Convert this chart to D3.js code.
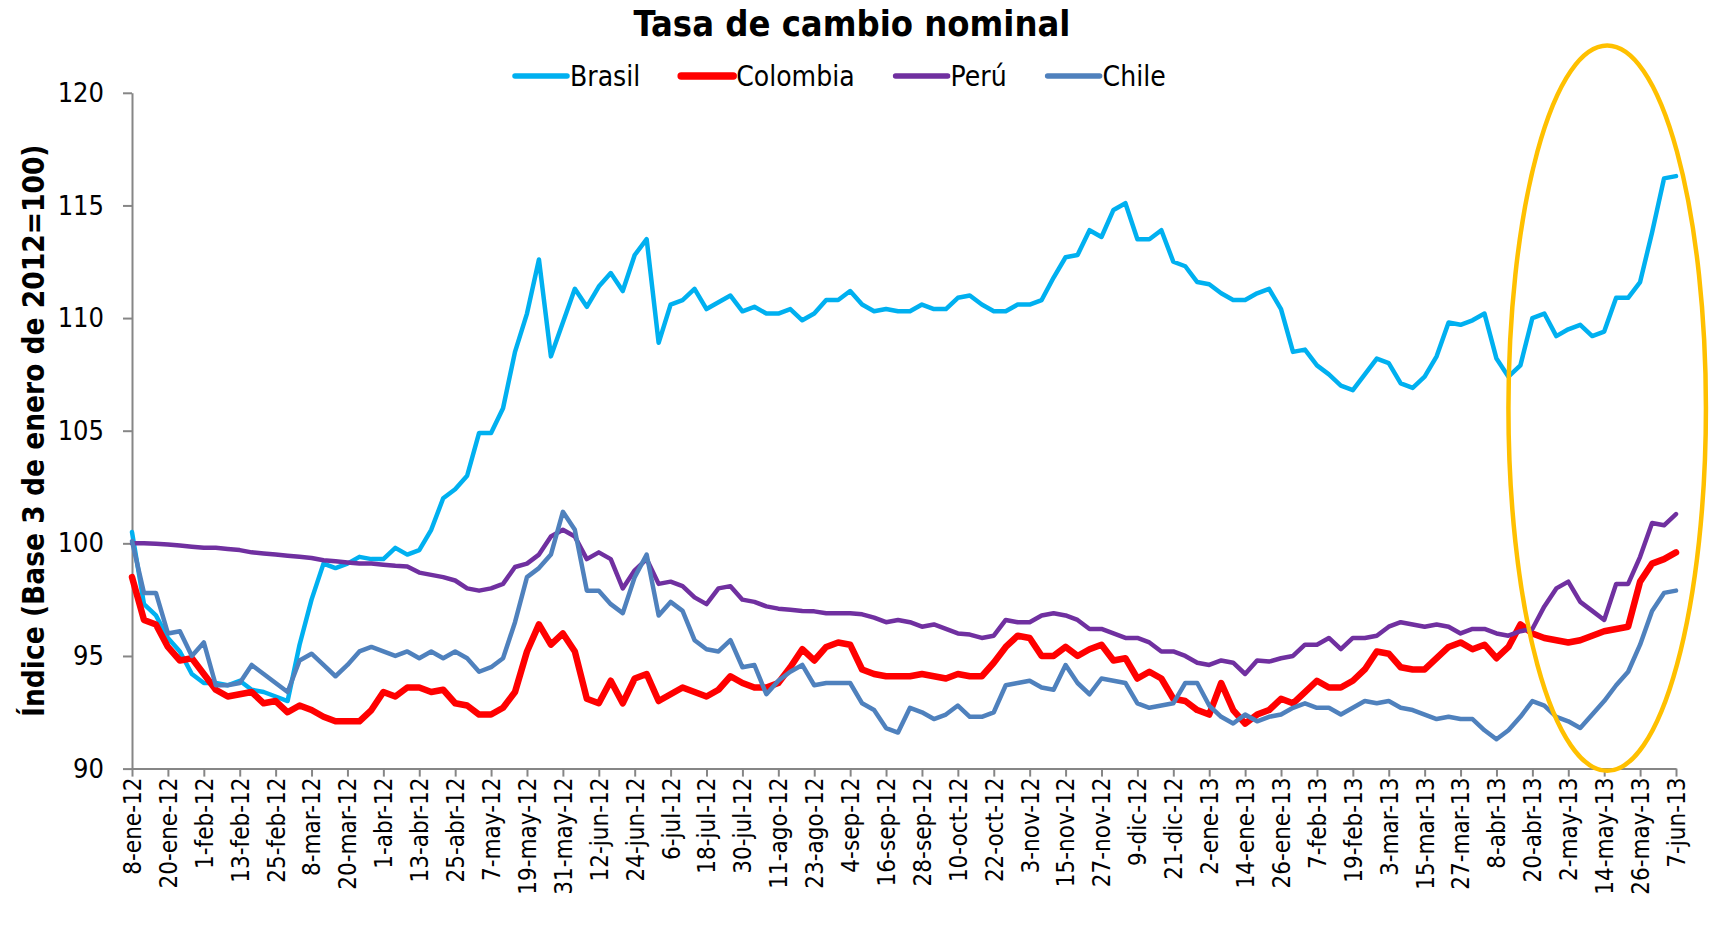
<!DOCTYPE html>
<html>
<head>
<meta charset="utf-8">
<title>Tasa de cambio nominal</title>
<script src="https://cdn.jsdelivr.net/npm/d3@7"></script>
<style>
  html, body { margin: 0; padding: 0; background: #fff; }
  svg { display: block; }
  text { font-family: "DejaVu Sans Condensed", "DejaVu Sans", sans-serif; font-stretch: condensed; fill: #000; }
</style>
</head>
<body>
<svg id="chart" width="1712" height="928"></svg>
<script>
// fechas de observacion (cada 4 dias)
var fechas = [
  "2012-01-08","2012-01-12","2012-01-16","2012-01-20","2012-01-24","2012-01-28",
  "2012-02-01","2012-02-05","2012-02-09","2012-02-13","2012-02-17","2012-02-21","2012-02-25","2012-02-29",
  "2012-03-04","2012-03-08","2012-03-12","2012-03-16","2012-03-20","2012-03-24","2012-03-28",
  "2012-04-01","2012-04-05","2012-04-09","2012-04-13","2012-04-17","2012-04-21","2012-04-25","2012-04-29",
  "2012-05-03","2012-05-07","2012-05-11","2012-05-15","2012-05-19","2012-05-23","2012-05-27","2012-05-31",
  "2012-06-04","2012-06-08","2012-06-12","2012-06-16","2012-06-20","2012-06-24","2012-06-28",
  "2012-07-02","2012-07-06","2012-07-10","2012-07-14","2012-07-18","2012-07-22","2012-07-26","2012-07-30",
  "2012-08-03","2012-08-07","2012-08-11","2012-08-15","2012-08-19","2012-08-23","2012-08-27","2012-08-31",
  "2012-09-04","2012-09-08","2012-09-12","2012-09-16","2012-09-20","2012-09-24","2012-09-28",
  "2012-10-02","2012-10-06","2012-10-10","2012-10-14","2012-10-18","2012-10-22","2012-10-26","2012-10-30",
  "2012-11-03","2012-11-07","2012-11-11","2012-11-15","2012-11-19","2012-11-23","2012-11-27",
  "2012-12-01","2012-12-05","2012-12-09","2012-12-13","2012-12-17","2012-12-21","2012-12-25","2012-12-29",
  "2013-01-02","2013-01-06","2013-01-10","2013-01-14","2013-01-18","2013-01-22","2013-01-26","2013-01-30",
  "2013-02-03","2013-02-07","2013-02-11","2013-02-15","2013-02-19","2013-02-23","2013-02-27",
  "2013-03-03","2013-03-07","2013-03-11","2013-03-15","2013-03-19","2013-03-23","2013-03-27","2013-03-31",
  "2013-04-04","2013-04-08","2013-04-12","2013-04-16","2013-04-20","2013-04-24","2013-04-28",
  "2013-05-02","2013-05-06","2013-05-10","2013-05-14","2013-05-18","2013-05-22","2013-05-26","2013-05-30",
  "2013-06-03","2013-06-07"
];

var brasil = [
  100.5, 97.3, 96.8, 95.8, 95.2, 94.2,
  93.8, 93.8, 93.7, 93.9, 93.5, 93.4, 93.2, 93.0,
  95.5, 97.5, 99.1, 98.9, 99.1, 99.4, 99.3,
  99.3, 99.8, 99.5, 99.7, 100.6, 102.0, 102.4, 103.0,
  104.9, 104.9, 106.0, 108.5, 110.2, 112.6, 108.3, 109.8,
  111.3, 110.5, 111.4, 112.0, 111.2, 112.8, 113.5,
  108.9, 110.6, 110.8, 111.3, 110.4, 110.7, 111.0, 110.3,
  110.5, 110.2, 110.2, 110.4, 109.9, 110.2, 110.8, 110.8,
  111.2, 110.6, 110.3, 110.4, 110.3, 110.3, 110.6,
  110.4, 110.4, 110.9, 111.0, 110.6, 110.3, 110.3, 110.6,
  110.6, 110.8, 111.8, 112.7, 112.8, 113.9, 113.6,
  114.8, 115.1, 113.5, 113.5, 113.9, 112.5, 112.3, 111.6,
  111.5, 111.1, 110.8, 110.8, 111.1, 111.3, 110.4, 108.5,
  108.6, 107.9, 107.5, 107.0, 106.8, 107.5, 108.2,
  108.0, 107.1, 106.9, 107.4, 108.3, 109.8, 109.7, 109.9,
  110.2, 108.2, 107.4, 107.9, 110.0, 110.2, 109.2,
  109.5, 109.7, 109.2, 109.4, 110.9, 110.9, 111.6, 113.8,
  116.2, 116.3
];

var colombia = [
  98.5, 96.6, 96.4, 95.4, 94.8, 94.9,
  94.2, 93.5, 93.2, 93.3, 93.4, 92.9, 93.0, 92.5,
  92.8, 92.6, 92.3, 92.1, 92.1, 92.1, 92.6,
  93.4, 93.2, 93.6, 93.6, 93.4, 93.5, 92.9, 92.8,
  92.4, 92.4, 92.7, 93.4, 95.2, 96.4, 95.5, 96.0,
  95.2, 93.1, 92.9, 93.9, 92.9, 94.0, 94.2,
  93.0, 93.3, 93.6, 93.4, 93.2, 93.5, 94.1, 93.8,
  93.6, 93.6, 93.8, 94.5, 95.3, 94.8, 95.4, 95.6,
  95.5, 94.4, 94.2, 94.1, 94.1, 94.1, 94.2,
  94.1, 94.0, 94.2, 94.1, 94.1, 94.7, 95.4, 95.9,
  95.8, 95.0, 95.0, 95.4, 95.0, 95.3, 95.5,
  94.8, 94.9, 94.0, 94.3, 94.0, 93.1, 93.0, 92.6,
  92.4, 93.8, 92.6, 92.0, 92.4, 92.6, 93.1, 92.9,
  93.4, 93.9, 93.6, 93.6, 93.9, 94.4, 95.2,
  95.1, 94.5, 94.4, 94.4, 94.9, 95.4, 95.6, 95.3,
  95.5, 94.9, 95.4, 96.4, 96.0, 95.8, 95.7,
  95.6, 95.7, 95.9, 96.1, 96.2, 96.3, 98.3, 99.1,
  99.3, 99.6
];

var peru = [
  100.0, 100.0, 99.98, 99.95, 99.9, 99.85,
  99.8, 99.8, 99.75, 99.7, 99.6, 99.55, 99.5, 99.45,
  99.4, 99.35, 99.25, 99.2, 99.15, 99.1, 99.1,
  99.05, 99.0, 98.97, 98.7, 98.6, 98.5, 98.35, 98.0,
  97.9, 98.0, 98.2, 98.95, 99.1, 99.5, 100.3, 100.6,
  100.3, 99.3, 99.6, 99.3, 98.0, 98.8, 99.3,
  98.2, 98.3, 98.1, 97.6, 97.3, 98.0, 98.1, 97.5,
  97.4, 97.2, 97.1, 97.05, 97.0, 96.98, 96.9, 96.9,
  96.9, 96.85, 96.7, 96.5, 96.6, 96.5, 96.3,
  96.4, 96.2, 96.0, 95.95, 95.8, 95.9, 96.6, 96.5,
  96.5, 96.8, 96.9, 96.8, 96.6, 96.2, 96.2,
  96.0, 95.8, 95.8, 95.6, 95.2, 95.2, 95.0, 94.7,
  94.6, 94.8, 94.7, 94.2, 94.8, 94.75, 94.9, 95.0,
  95.5, 95.5, 95.8, 95.3, 95.8, 95.8, 95.9,
  96.3, 96.5, 96.4, 96.3, 96.4, 96.3, 96.0, 96.2,
  96.2, 96.0, 95.9, 96.1, 96.2, 97.2, 98.0,
  98.3, 97.4, 97.0, 96.6, 98.2, 98.2, 99.4, 100.9,
  100.8, 101.3
];

var chile = [
  100.1, 97.8, 97.8, 96.0, 96.1, 95.0,
  95.6, 93.7, 93.7, 93.8, 94.6, 94.2, 93.8, 93.4,
  94.8, 95.1, 94.6, 94.1, 94.6, 95.2, 95.4,
  95.2, 95.0, 95.2, 94.9, 95.2, 94.9, 95.2, 94.9,
  94.3, 94.5, 94.9, 96.5, 98.5, 98.9, 99.5, 101.4,
  100.6, 97.9, 97.9, 97.3, 96.9, 98.5, 99.5,
  96.8, 97.4, 97.0, 95.7, 95.3, 95.2, 95.7, 94.5,
  94.6, 93.3, 93.9, 94.3, 94.6, 93.7, 93.8, 93.8,
  93.8, 92.9, 92.6, 91.8, 91.6, 92.7, 92.5,
  92.2, 92.4, 92.8, 92.3, 92.3, 92.5, 93.7, 93.8,
  93.9, 93.6, 93.5, 94.6, 93.8, 93.3, 94.0,
  93.9, 93.8, 92.9, 92.7, 92.8, 92.9, 93.8, 93.8,
  92.8, 92.3, 92.0, 92.4, 92.1, 92.3, 92.4, 92.7,
  92.9, 92.7, 92.7, 92.4, 92.7, 93.0, 92.9,
  93.0, 92.7, 92.6, 92.4, 92.2, 92.3, 92.2, 92.2,
  91.7, 91.3, 91.7, 92.3, 93.0, 92.8, 92.3,
  92.1, 91.8, 92.4, 93.0, 93.7, 94.3, 95.5, 97.0,
  97.8, 97.9
];

var paises = ["Brasil", "Colombia", "Perú", "Chile"];
var yTicks = [90, 95, 100, 105, 110, 115, 120];
var etiquetasX = [
  "8-ene-12","20-ene-12","1-feb-12","13-feb-12","25-feb-12","8-mar-12","20-mar-12","1-abr-12",
  "13-abr-12","25-abr-12","7-may-12","19-may-12","31-may-12","12-jun-12","24-jun-12","6-jul-12",
  "18-jul-12","30-jul-12","11-ago-12","23-ago-12","4-sep-12","16-sep-12","28-sep-12","10-oct-12",
  "22-oct-12","3-nov-12","15-nov-12","27-nov-12","9-dic-12","21-dic-12","2-ene-13","14-ene-13",
  "26-ene-13","7-feb-13","19-feb-13","3-mar-13","15-mar-13","27-mar-13","8-abr-13","20-abr-13",
  "2-may-13","14-may-13","26-may-13","7-jun-13"
];
// zona destacada: centro (fecha, valor) y semiejes (dias, puntos de indice)
var destacado = { fecha: "15-may-13", valor: 106, dias: 33, puntos: 16.1 };

// estilos
var colores = ["#00B0F0", "#FF0000", "#7030A0", "#4F81BD"];
var grosores = [4.5, 6.5, 4.5, 4.5];

var mesesAbr = ["ene","feb","mar","abr","may","jun","jul","ago","sep","oct","nov","dic"];
function parseEtiqueta(s) {
    var p = s.split("-");
    return new Date(2000 + +p[2], mesesAbr.indexOf(p[1]), +p[0]);
}
var parseFecha = d3.timeParse("%Y-%m-%d");
var fechasP = fechas.map(parseFecha);
var ticksX = etiquetasX.map(parseEtiqueta);

var svg = d3.select("#chart");
var plotLeft = 132, plotRight = 1676, plotTop = 92.8, plotBottom = 768.6;

var x = d3.scaleTime()
    .domain([ticksX[0], ticksX[ticksX.length - 1]])
    .range([plotLeft, plotRight]);
var y = d3.scaleLinear().domain([90, 120]).range([plotBottom, plotTop]);

// titulo
svg.append("text")
    .attr("x", 852).attr("y", 36)
    .attr("text-anchor", "middle")
    .style("font-size", "36px").style("font-weight", "bold")
    .text("Tasa de cambio nominal");

// eje Y
var gy = svg.append("g")
    .attr("transform", "translate(" + plotLeft + ",0)")
    .call(d3.axisLeft(y).tickValues(yTicks).tickSize(9).tickSizeOuter(0).tickPadding(19));
gy.selectAll("text").style("font-size", "27px").style("font-family", null);
gy.selectAll("line, path").attr("stroke", "#868686").attr("stroke-width", 2);

svg.append("text")
    .attr("transform", "translate(34," + ((plotTop + plotBottom) / 2) + ") rotate(-90)")
    .attr("text-anchor", "middle")
    .attr("dominant-baseline", "central")
    .style("font-size", "29.5px").style("font-weight", "bold")
    .text("Índice (Base 3 de enero de 2012=100)");

// eje X
var gx = svg.append("g")
    .attr("transform", "translate(0," + plotBottom + ")")
    .call(d3.axisBottom(x).tickValues(ticksX).tickSize(8).tickSizeOuter(0)
        .tickFormat(function (d, i) { return etiquetasX[i]; }));
gx.selectAll("line, path").attr("stroke", "#868686").attr("stroke-width", 2);
gx.selectAll("text")
    .style("font-size", "24px").style("font-family", null)
    .attr("transform", "rotate(-90)")
    .attr("text-anchor", "end")
    .attr("x", -9).attr("y", 0).attr("dy", "0.35em");

// lineas
var series = [brasil, colombia, peru, chile];
var linea = d3.line()
    .x(function (d, i) { return x(fechasP[i]); })
    .y(function (d) { return y(d); });

svg.append("g").selectAll("path")
    .data(series)
    .enter().append("path")
    .attr("d", linea)
    .attr("fill", "none")
    .attr("stroke", function (d, i) { return colores[i]; })
    .attr("stroke-width", function (d, i) { return grosores[i]; })
    .attr("stroke-linejoin", "round")
    .attr("stroke-linecap", "round");

// elipse
var cFecha = parseEtiqueta(destacado.fecha);
var cx = x(cFecha);
svg.append("ellipse")
    .attr("cx", cx)
    .attr("cy", y(destacado.valor))
    .attr("rx", x(d3.timeDay.offset(cFecha, destacado.dias)) - cx)
    .attr("ry", y(destacado.valor - destacado.puntos) - y(destacado.valor))
    .attr("fill", "none")
    .attr("stroke", "#FFC000")
    .attr("stroke-width", 4.5);

// leyenda
var ley = svg.append("g").attr("transform", "translate(513,76)");
var posX = 0;
paises.forEach(function (p, i) {
    var g = ley.append("g").attr("transform", "translate(" + posX + ",0)");
    g.append("line")
        .attr("x1", 2).attr("x2", 54).attr("y1", 0).attr("y2", 0)
        .attr("stroke", colores[i]).attr("stroke-width", grosores[i] + 1)
        .attr("stroke-linecap", "round");
    var t = g.append("text")
        .attr("x", 57).attr("y", 0).attr("dy", "0.36em")
        .style("font-size", "28px")
        .text(p);
    posX += 57 + t.node().getComputedTextLength() + 39;
});
</script>
</body>
</html>
